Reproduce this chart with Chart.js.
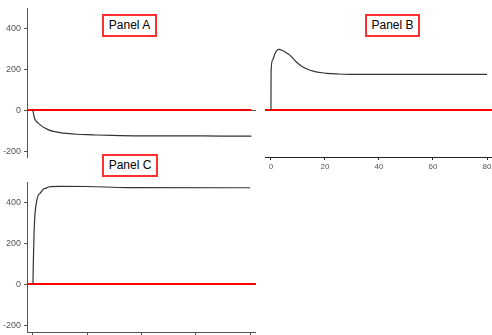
<!DOCTYPE html>
<html>
<head>
<meta charset="utf-8">
<script src="https://cdn.jsdelivr.net/npm/chart.js@4.4.1/dist/chart.umd.min.js"></script>
<style>
  html, body { margin: 0; padding: 0; background: #fff; }
  body { width: 492px; height: 335px; position: relative; overflow: hidden;
         font-family: "Liberation Sans", Arial, sans-serif; }
  canvas { position: absolute; }
  .ttl { position: absolute; box-sizing: border-box; height: 23px;
         border: 2px solid #ff3030; background: #fff; color: #000;
         font-size: 12px; line-height: 19px; text-align: center; white-space: nowrap; }
</style>
</head>
<body>
<canvas id="panelA" width="256" height="150" style="left:0;top:8px"></canvas>
<canvas id="panelB" width="237" height="164" style="left:255px;top:8px"></canvas>
<canvas id="panelC" width="256" height="153" style="left:0;top:182px"></canvas>
<div class="ttl" style="left:102px;top:14px;width:55px">Panel A</div>
<div class="ttl" style="left:365px;top:14px;width:55px">Panel B</div>
<div class="ttl" style="left:102px;top:154px;width:56px">Panel C</div>
<script>
// Response traces: time (x) and value (y) for each panel
const timeA  = [0, 0.3, 0.7, 1.4, 2, 3, 4.4, 6, 7.5, 10, 12.5, 16, 22, 29, 40, 55, 70, 80.5];
const valueA = [0, -25, -45, -57, -64, -76, -88, -98, -104, -110, -114, -118, -121, -124, -126, -126, -127, -127];

const timeB  = [0, 0.05, 0.6, 1.5, 2.2, 3, 4.6, 5.8, 7, 9.6, 11.5, 13.8, 16, 18.8, 20.6, 25, 31, 50, 80];
const valueB = [0, 185, 244, 276, 290, 296, 288, 279, 268, 232, 213, 198, 189, 182, 179, 176, 174, 174, 174];

const timeC  = [0, 0.1, 0.4, 0.74, 1.37, 1.96, 2.58, 3.8, 4.4, 6.3, 10, 20, 35, 80];
const valueC = [0, 86, 250, 340, 405, 434, 442, 463, 466, 475, 477, 476, 471, 470];

// Zero reference line extent (time) per panel
const baseA = [-2.2, 80.5];
const baseB = [-2.2, 81.85];
const baseC = [-2.2, 82.2];

// Axis tick values
const yTickValues = [-200, 0, 200, 400];
const xTickValues = [0, 20, 40, 60, 80];

const AXIS = '#555';
const LABEL = '#555';
const FONT = '"Liberation Sans", Arial, sans-serif';

function series(t, v) { return t.map((x, i) => ({ x: x, y: v[i] })); }
function baseline(t) { return t.map(x => ({ x: x, y: 0 })); }

function leftAxis(min, max) {
  return {
    type: 'linear', position: 'left', min: min, max: max,
    afterBuildTicks: s => { s.ticks = yTickValues.map(v => ({ value: v })); },
    afterFit: s => { s.width = 27; s.paddingTop = 0; s.paddingBottom = 0; },
    border: { display: true, color: AXIS, width: 1 },
    grid: {
      color: c => (c.tick && c.tick.value === 0) ? AXIS : 'rgba(0,0,0,0)',
      tickColor: AXIS, tickLength: 3, drawTicks: true, lineWidth: 1
    },
    ticks: { font: { size: 9, family: FONT }, color: LABEL, padding: 3 }
  };
}

function makePanel(id, t, v, base, scales, padLeft) {
  return new Chart(document.getElementById(id), {
    type: 'line',
    data: {
      datasets: [
        { data: series(t, v), borderColor: '#333', borderWidth: 1.2, pointRadius: 0,
          cubicInterpolationMode: 'monotone', fill: false },
        { data: baseline(base), borderColor: '#ff0000', borderWidth: 2, pointRadius: 0, fill: false }
      ]
    },
    options: {
      responsive: false, animation: false, events: [],
      layout: { padding: { left: padLeft || 0, right: 0, top: 0, bottom: 0 } },
      plugins: { legend: { display: false }, tooltip: { enabled: false } },
      scales: scales
    }
  });
}

// Panel A: left value axis, no time axis
makePanel('panelA', timeA, valueA, baseA, {
  x: { type: 'linear', display: false, min: -2.2, max: 82.2 },
  y: leftAxis(-234, 498)
});

// Panel B: time axis with labels, no value axis
makePanel('panelB', timeB, valueB, baseB, {
  x: {
    type: 'linear', position: 'bottom', min: -2.2, max: 81.85,
    afterBuildTicks: s => { s.ticks = xTickValues.map(v => ({ value: v })); },
    afterFit: s => { s.height = 15; s.paddingLeft = 0; s.paddingRight = 0; },
    border: { display: true, color: '#222', width: 1 },
    grid: { drawOnChartArea: false, tickLength: 3, tickColor: '#222' },
    ticks: { font: { size: 8, family: FONT }, color: LABEL, padding: 2, maxRotation: 0, autoSkip: false }
  },
  y: { type: 'linear', display: false, min: -229, max: 498 }
}, 10);

// Panel C: left value axis, time axis with tick marks only
makePanel('panelC', timeC, valueC, baseC, {
  x: {
    type: 'linear', position: 'bottom', min: -2.2, max: 82.2,
    afterBuildTicks: s => { s.ticks = xTickValues.map(v => ({ value: v })); },
    afterFit: s => { s.height = 3; s.paddingLeft = 0; s.paddingRight = 0; },
    border: { display: true, color: AXIS, width: 1 },
    grid: { drawOnChartArea: false, tickLength: 3, tickColor: AXIS },
    ticks: { display: false }
  },
  y: leftAxis(-234, 498)
});
</script>
</body>
</html>
